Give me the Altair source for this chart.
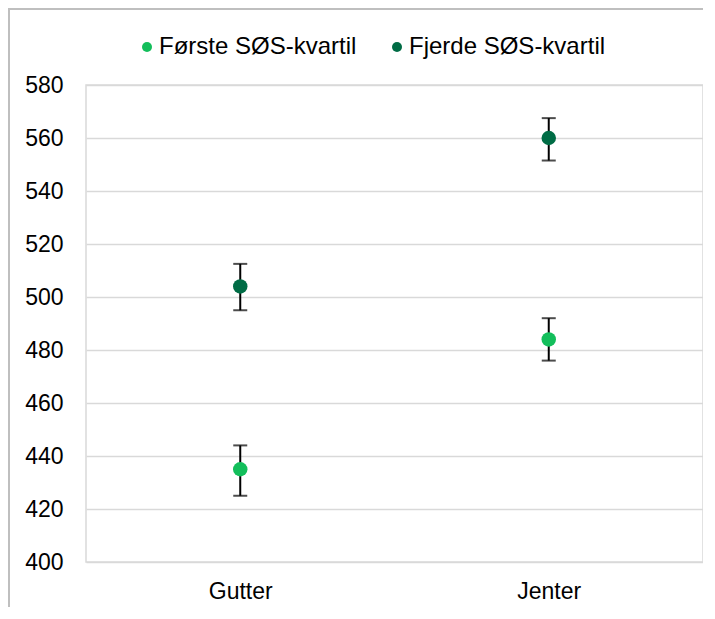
import altair as alt
import pandas as pd

categories = ["Gutter", "Jenter"]
series = ["Første SØS-kvartil", "Fjerde SØS-kvartil"]
colors = ["#13BE5B", "#006C45"]

foerste_mean = [435, 484]
foerste_lo = [425, 476]
foerste_hi = [444, 492]

fjerde_mean = [504, 560]
fjerde_lo = [495, 551.5]
fjerde_hi = [512.5, 567.5]

rows = []
for i, c in enumerate(categories):
    rows.append({"kjonn": c, "serie": series[0], "mean": foerste_mean[i], "lo": foerste_lo[i], "hi": foerste_hi[i]})
    rows.append({"kjonn": c, "serie": series[1], "mean": fjerde_mean[i], "lo": fjerde_lo[i], "hi": fjerde_hi[i]})
df = pd.DataFrame(rows)

FONT = "Liberation Sans"

x = alt.X("kjonn:N", sort=categories, title=None,
          scale=alt.Scale(type="point", padding=0.5),
          axis=alt.Axis(labelAngle=0, labelFontSize=23, labelFont=FONT, labelColor="#000000",
                        ticks=False, domain=False, grid=False, labelPadding=18))
yscale = alt.Scale(domain=[400, 580], nice=False, zero=False)
yaxis = alt.Axis(values=list(range(400, 581, 20)), labelFontSize=23, labelFont=FONT,
                 labelColor="#000000", ticks=False, domain=False, gridColor="#d9d9d9",
                 gridWidth=1.5, labelPadding=23)

base = alt.Chart(df)

rules = base.mark_rule(color="#000000", strokeWidth=2).encode(
    x=x,
    y=alt.Y("lo:Q", scale=yscale, axis=yaxis, title=None),
    y2="hi:Q",
)
cap_lo = base.mark_tick(color="#000000", thickness=2, size=14).encode(
    x=x, y=alt.Y("lo:Q", scale=yscale, title=None))
cap_hi = base.mark_tick(color="#000000", thickness=2, size=14).encode(
    x=x, y=alt.Y("hi:Q", scale=yscale, title=None))

points = base.mark_circle(size=210, opacity=1).encode(
    x=x,
    y=alt.Y("mean:Q", scale=yscale, title=None),
    color=alt.Color("serie:N", scale=alt.Scale(domain=series, range=colors), title=None,
                    legend=alt.Legend(orient="none", legendX=49, legendY=-50, direction="horizontal",
                                      symbolType="circle", symbolSize=100, symbolStrokeWidth=0,
                                      labelFontSize=24, labelFont=FONT, labelColor="#000000",
                                      labelLimit=400, columnPadding=28, labelOffset=0)),
)

frame = alt.Chart(pd.DataFrame({"a": [0]})).mark_rect(
    filled=False, stroke="#bfbfbf", strokeWidth=2).encode(
    x=alt.value(-77), x2=alt.value(760), y=alt.value(-76), y2=alt.value(700))

chart = alt.layer(frame, rules, cap_lo, cap_hi, points).properties(
    width=617, height=477,
    autosize=alt.AutoSizeParams(type="none"),
    padding={"left": 78, "top": 77, "right": 0, "bottom": 45},
).configure_view(stroke="#d9d9d9", strokeWidth=1.5)

chart.save("out.html", embed_options={"renderer": "svg", "actions": False})
